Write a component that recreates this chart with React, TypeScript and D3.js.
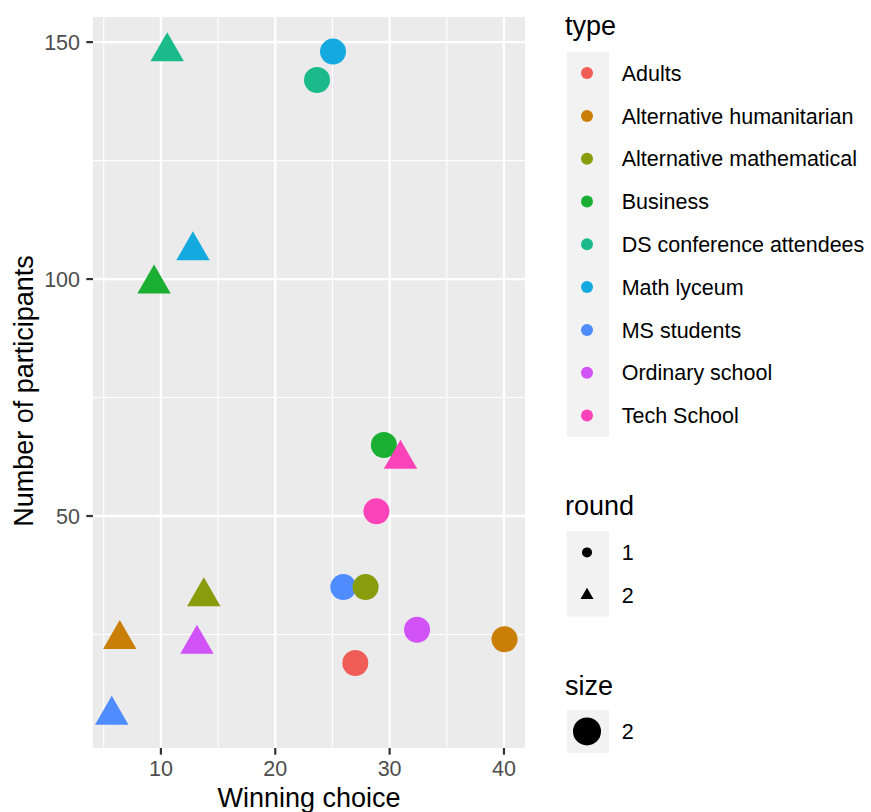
import React from "react";
import * as d3 from "d3";

const types = [
  "Adults",
  "Alternative humanitarian",
  "Alternative mathematical",
  "Business",
  "DS conference attendees",
  "Math lyceum",
  "MS students",
  "Ordinary school",
  "Tech School",
];
const typeColors = ["#F05D57", "#C97F06", "#879D0B", "#1AAF33", "#1BBA8B", "#15AADF", "#4E8CFF", "#D152F6", "#FC44BA"];

// data points
const pointType = [
  "DS conference attendees", "Math lyceum", "Business", "Math lyceum", "DS conference attendees",
  "Alternative mathematical", "Alternative humanitarian", "Ordinary school", "MS students",
  "Business", "Tech School", "Tech School", "MS students", "Alternative mathematical",
  "Ordinary school", "Alternative humanitarian", "Adults",
];
const pointRound = [2, 2, 2, 1, 1, 2, 2, 2, 2, 1, 2, 1, 1, 1, 1, 1, 1];
const winningChoice = [10.55, 12.8, 9.4, 25.05, 23.65, 13.75, 6.4, 13.15, 5.7, 29.5, 30.95, 28.85, 25.95, 27.9, 32.4, 40.05, 27.0];
const participants = [148, 106, 99, 148, 142, 33, 24, 23, 8, 65, 62, 51, 35, 35, 26, 24, 19];

const xTicks = [10, 20, 30, 40];
const xMinor = [5, 15, 25, 35];
const yTicks = [50, 100, 150];
const yMinor = [25, 75, 125];
const roundLevels = ["1", "2"];
const sizeLevels = ["2"];

const FONT = "'Liberation Sans', Arial, Helvetica, sans-serif";

function triPath(cx: number, cy: number, r: number) {
  const h = r * 0.866;
  return `M${cx},${cy - r}L${cx + h},${cy + r / 2}L${cx - h},${cy + r / 2}Z`;
}

export default function App() {
  const W = 871, H = 812;
  const left = 93, right = 525, top = 17, bottom = 748;
  const x = d3.scaleLinear().domain([4.06, 41.84]).range([left, right]);
  const y = d3.scaleLinear().domain([1.05, 155.3]).range([bottom, top]);
  const color = d3.scaleOrdinal<string, string>().domain(types).range(typeColors);

  const keyX = 566.7, keyW = 42.5, keyH = 42.8;
  const labelX = 621.7;

  return (
    <svg width={W} height={H} style={{ position: "absolute", left: 0, top: 0, fontFamily: FONT }}>
      <rect x={0} y={0} width={W} height={H} fill="#fff" />
      <rect x={left} y={top} width={right - left} height={bottom - top} fill="#EBEBEB" />
      {xMinor.map((t) => (
        <line key={"xm" + t} x1={x(t)} x2={x(t)} y1={top} y2={bottom} stroke="#fff" strokeWidth={1.1} />
      ))}
      {yMinor.map((t) => (
        <line key={"ym" + t} y1={y(t)} y2={y(t)} x1={left} x2={right} stroke="#fff" strokeWidth={1.1} />
      ))}
      {xTicks.map((t) => (
        <line key={"xM" + t} x1={x(t)} x2={x(t)} y1={top} y2={bottom} stroke="#fff" strokeWidth={2.3} />
      ))}
      {yTicks.map((t) => (
        <line key={"yM" + t} y1={y(t)} y2={y(t)} x1={left} x2={right} stroke="#fff" strokeWidth={2.3} />
      ))}
      {/* axes ticks */}
      {xTicks.map((t) => (
        <g key={"xt" + t}>
          <line x1={x(t)} x2={x(t)} y1={bottom} y2={bottom + 6.7} stroke="#333" strokeWidth={2.2} />
          <text x={x(t)} y={776} textAnchor="middle" fontSize={21.5} fill="#4D4D4D">{t}</text>
        </g>
      ))}
      {yTicks.map((t) => (
        <g key={"yt" + t}>
          <line x1={left - 6.7} x2={left} y1={y(t)} y2={y(t)} stroke="#333" strokeWidth={2.2} />
          <text x={80} y={y(t) + 7.6} textAnchor="end" fontSize={21.5} fill="#4D4D4D">{t}</text>
        </g>
      ))}
      <text x={(left + right) / 2} y={807} textAnchor="middle" fontSize={27} fill="#000">Winning choice</text>
      <text transform={`translate(33,391) rotate(-90)`} textAnchor="middle" fontSize={27} fill="#000">Number of participants</text>

      {/* points */}
      {winningChoice.map((wc, i) => {
        const cx = x(wc), cy = y(participants[i]);
        const c = color(pointType[i]);
        return pointRound[i] === 1 ? (
          <circle key={"p" + i} cx={cx} cy={cy} r={13} fill={c} />
        ) : (
          <path key={"p" + i} d={triPath(cx, cy, 19.3)} fill={c} />
        );
      })}

      {/* legend: type */}
      <text x={565} y={35} fontSize={27} fill="#000">type</text>
      <rect x={keyX} y={51.7} width={keyW} height={keyH * types.length} fill="#F2F2F2" />
      {types.map((t, i) => {
        const cy = 51.7 + keyH * (i + 0.5);
        return (
          <g key={"lt" + t}>
            <circle cx={587} cy={cy} r={6} fill={color(t)} />
            <text x={labelX} y={cy + 7.6} fontSize={21.5} fill="#000">{t}</text>
          </g>
        );
      })}

      {/* legend: round */}
      <text x={565} y={515} fontSize={27} fill="#000">round</text>
      <rect x={keyX} y={531} width={keyW} height={keyH * roundLevels.length} fill="#F2F2F2" />
      {roundLevels.map((r, i) => {
        const cy = 531 + keyH * (i + 0.5);
        return (
          <g key={"lr" + r}>
            {i === 0 ? (
              <circle cx={587} cy={cy} r={5} fill="#000" />
            ) : (
              <path d={triPath(587, cy, 7.5)} fill="#000" />
            )}
            <text x={labelX} y={cy + 7.6} fontSize={21.5} fill="#000">{r}</text>
          </g>
        );
      })}

      {/* legend: size */}
      <text x={565} y={695} fontSize={27} fill="#000">size</text>
      <rect x={keyX} y={710} width={keyW} height={keyH} fill="#F2F2F2" />
      {sizeLevels.map((s) => (
        <g key={"ls" + s}>
          <circle cx={587} cy={710 + keyH / 2} r={14} fill="#000" />
          <text x={labelX} y={710 + keyH / 2 + 7.6} fontSize={21.5} fill="#000">{s}</text>
        </g>
      ))}
    </svg>
  );
}
